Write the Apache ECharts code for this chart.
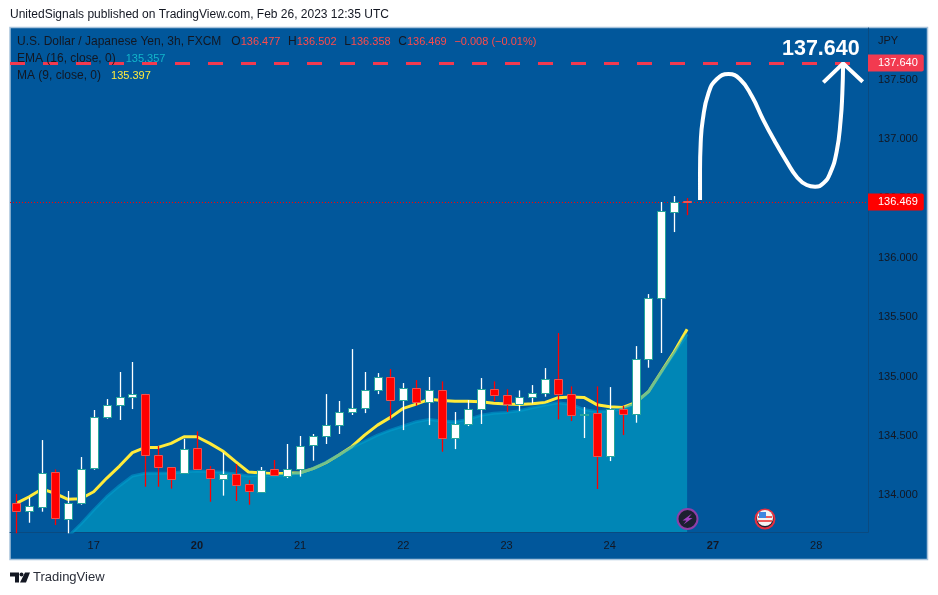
<!DOCTYPE html>
<html>
<head>
<meta charset="utf-8">
<style>
html, body { margin: 0; padding: 0; background: #fff; }
#main { width: 938px; height: 595px; }
</style>
<script src="https://cdn.jsdelivr.net/npm/echarts@6/dist/echarts.min.js"></script>
</head>
<body>
<div id="main"></div>
<script>
// USD/JPY 3h bars
var open = [133.932,133.865,133.907,134.193,133.806,133.940,134.227,134.656,134.757,134.824,134.850,134.336,134.235,134.193,134.395,134.218,134.143,134.182,134.092,134.033,134.218,134.168,134.227,134.420,134.499,134.589,134.698,134.732,134.883,134.993,134.799,134.900,134.782,134.883,134.479,134.597,134.723,134.892,134.841,134.765,134.824,134.858,134.976,134.850,134.676,134.690,134.325,134.723,134.678,135.144,135.658,136.390,136.477];
var close = [133.865,133.907,134.190,133.806,133.938,134.224,134.656,134.757,134.824,134.850,134.336,134.235,134.134,134.392,134.218,134.143,134.182,134.092,134.033,134.215,134.168,134.224,134.417,134.496,134.589,134.698,134.732,134.883,134.993,134.796,134.900,134.779,134.883,134.479,134.597,134.723,134.892,134.841,134.765,134.824,134.858,134.976,134.850,134.673,134.687,134.325,134.723,134.678,135.144,135.658,136.390,136.472,136.469];
var low = [133.680,133.769,133.862,133.750,133.680,133.921,134.215,134.645,134.634,134.726,134.072,134.072,134.056,134.190,134.215,133.946,133.997,133.952,133.921,134.030,134.165,134.145,134.157,134.291,134.432,134.516,134.676,134.692,134.852,134.639,134.549,134.754,134.591,134.367,134.389,134.583,134.600,134.791,134.701,134.709,134.774,134.830,134.639,134.625,134.482,134.053,134.288,134.507,134.611,135.074,135.198,136.216,136.358];
var high = [134.011,133.983,134.465,134.218,134.036,134.322,134.718,134.810,135.038,135.122,134.855,134.415,134.238,134.476,134.538,134.246,134.359,134.263,134.128,134.238,134.297,134.432,134.499,134.516,134.852,134.794,135.231,135.038,135.029,135.063,134.945,134.970,134.996,134.959,134.701,134.802,134.987,134.959,134.892,134.883,134.928,135.071,135.366,134.917,134.743,134.917,134.911,134.754,135.256,135.694,136.469,136.519,136.502];
var ma9 = [133.932,133.988,134.053,134.016,133.966,133.971,134.030,134.143,134.246,134.359,134.403,134.403,134.437,134.493,134.493,134.437,134.373,134.283,134.196,134.187,134.182,134.185,134.190,134.224,134.274,134.339,134.409,134.507,134.591,134.656,134.732,134.768,134.808,134.799,134.791,134.791,134.788,134.774,134.768,134.765,134.771,134.782,134.822,134.827,134.824,134.763,134.746,134.740,134.779,134.872,135.040,135.209,135.397];
var ema16 = [null,null,null,null,133.651,133.758,133.876,133.988,134.081,134.162,134.185,134.185,134.187,134.199,134.204,134.201,134.193,134.179,134.162,134.171,134.162,134.173,134.190,134.224,134.277,134.339,134.403,134.454,134.507,134.549,134.583,134.620,134.639,134.625,134.620,134.639,134.673,134.690,134.698,134.712,134.737,134.760,134.779,134.765,134.723,134.704,134.712,134.726,134.774,134.872,135.035,135.195,135.357];

var dayTicks = [6,14,22,30,38,46,54,62];
var dayLabels = ['17','20','21','22','23','24','27','28'];
var boldDays = ['20','27'];
var priceTicks = [134,134.5,135,135.5,136,136.5,137,137.5];

var targetPrice = 137.640;
var lastPrice = 136.469;

// hand drawn projection, in bar number / price
var pathPoints = [[53.0,136.486],[53.0,136.738],[53.05,136.963],[53.21,137.159],[53.65,137.384],[54.29,137.502],[55.2,137.546],[56.1,137.502],[57.01,137.361],[57.91,137.159],[58.81,136.977],[59.72,136.809],[60.49,136.682],[61.27,136.612],[61.92,136.598],[62.56,136.626],[63.08,136.710],[63.59,136.893],[63.9,137.159],[64.03,137.384],[64.09,137.636]];
var arrowPoints = [[62.56,137.476],[64.09,137.636],[65.61,137.482]];

var uiFont = '"Liberation Sans", Arial, sans-serif';
var textColor = '#131722';
var panelColor = '#01579b';

function pairs(arr) {
    return arr.map(function (v, i) { return [i, v]; });
}

var bars = open.map(function (o, i) {
    return [i, o, close[i], low[i], high[i]];
});

function renderBar(params, api) {
    var o = api.value(1), c = api.value(2);
    var up = c >= o;
    var x = Math.round(api.coord([api.value(0), o])[0]) + 0.5;
    var yTop = api.coord([0, Math.max(o, c)])[1];
    var yBot = api.coord([0, Math.min(o, c)])[1];
    var yHigh = api.coord([0, api.value(4)])[1];
    var yLow = api.coord([0, api.value(3)])[1];
    return {
        type: 'group',
        children: [{
            type: 'line',
            shape: { x1: x, y1: yHigh, x2: x, y2: yLow },
            style: { stroke: up ? '#ffffff' : '#ff0000', lineWidth: 1.3 }
        }, {
            type: 'rect',
            shape: { x: x - 4, y: Math.round(yTop) + 0.5, width: 8, height: Math.max(Math.round(yBot - yTop), 1) },
            style: { fill: up ? '#ffffff' : '#ff0000', stroke: up ? '#26a69a' : '#ef5350', lineWidth: 1 }
        }]
    };
}

function priceLine(price, tagColor, lineStyle) {
    return {
        silent: true,
        symbol: 'none',
        animation: false,
        lineStyle: lineStyle,
        label: {
            show: true,
            position: 'end',
            distance: 0,
            formatter: price.toFixed(3),
            padding: [0, 6, 0, 10],
            height: 17,
            lineHeight: 17,
            color: '#fff',
            fontFamily: uiFont,
            fontSize: 11,
            backgroundColor: tagColor,
            borderRadius: [0, 2, 2, 0]
        },
        data: [{ yAxis: price }]
    };
}

var chart = echarts.init(document.getElementById('main'), null, { renderer: 'canvas' });

chart.setOption({
    animation: false,
    backgroundColor: '#ffffff',
    textStyle: { fontFamily: uiFont },
    grid: { left: 10, top: 28, width: 858, height: 504, containLabel: false },
    xAxis: {
        type: 'value',
        min: -0.488,
        max: 66.02,
        splitLine: { show: false },
        axisLine: { show: true, onZero: false, lineStyle: { color: '#0a4a80', width: 1 } },
        axisTick: { show: false },
        axisLabel: {
            customValues: dayTicks,
            margin: 8,
            color: textColor,
            fontSize: 11,
            fontFamily: uiFont,
            formatter: function (v) {
                var s = dayLabels[dayTicks.indexOf(v)];
                return boldDays.indexOf(s) >= 0 ? '{b|' + s + '}' : s;
            },
            rich: { b: { fontWeight: 'bold', fontSize: 11, color: textColor, fontFamily: uiFont } }
        }
    },
    yAxis: {
        type: 'value',
        position: 'right',
        min: 133.691,
        max: 137.934,
        splitLine: { show: false },
        axisLine: { show: true, onZero: false, lineStyle: { color: '#0a4a80', width: 1 } },
        axisTick: { show: false },
        axisLabel: {
            customValues: priceTicks,
            margin: 10,
            color: textColor,
            fontSize: 11,
            fontFamily: uiFont,
            formatter: function (v) { return v.toFixed(3); }
        }
    },
    series: [
        {
            name: 'EMA area',
            type: 'line',
            z: 2,
            data: pairs(ema16),
            showSymbol: false,
            lineStyle: { width: 0 },
            areaStyle: { color: '#0086b6', opacity: 1, origin: 'start' }
        },
        {
            name: 'MA (9, close, 0)',
            type: 'line',
            z: 3,
            data: pairs(ma9),
            showSymbol: false,
            lineStyle: { color: '#ffeb3b', width: 3 }
        },
        {
            name: 'EMA (16, close, 0)',
            type: 'line',
            z: 4,
            data: pairs(ema16),
            showSymbol: false,
            lineStyle: { color: 'rgba(0,160,205,0.55)', width: 3 }
        },
        {
            name: 'USD/JPY',
            type: 'custom',
            z: 5,
            data: bars,
            encode: { x: 0, y: [1, 2, 3, 4] },
            renderItem: renderBar
        },
        {
            name: 'last',
            type: 'line',
            z: 6,
            data: [],
            markLine: priceLine(lastPrice, '#ff0000', { color: '#ff0000', type: [1, 2], width: 1 })
        },
        {
            name: 'target',
            type: 'line',
            z: 7,
            data: [],
            markLine: priceLine(targetPrice, '#f23a50', { color: '#f23a50', type: [15, 18], width: 3 })
        },
        {
            name: 'projection',
            type: 'line',
            z: 8,
            data: pathPoints,
            smooth: 0.5,
            showSymbol: false,
            lineStyle: { color: '#ffffff', width: 4, cap: 'butt' }
        },
        {
            name: 'arrow',
            type: 'line',
            z: 8,
            data: arrowPoints,
            showSymbol: false,
            lineStyle: { color: '#ffffff', width: 4 }
        }
    ],
    graphic: [
        { type: 'rect', z: -10, silent: true, shape: { x: 10, y: 27.5, width: 917.5, height: 532 }, style: { fill: panelColor, stroke: '#a8c3dc', lineWidth: 1.5 } },
        { type: 'text', z: 20, x: 10, y: 9, style: { text: 'UnitedSignals published on TradingView.com, Feb 26, 2023 12:35 UTC', fill: '#131722', font: '12px ' + uiFont } },
        { type: 'text', z: 20, x: 17, y: 36, style: {
            text: '{k|U.S. Dollar / Japanese Yen, 3h, FXCM   O}{v|136.477}{k|  H}{v|136.502}{k|  L}{v|136.358}{k|  C}{v|136.469}{k|  }{v|−0.008 (−0.01%)}',
            rich: { k: { fill: textColor, font: '12px ' + uiFont }, v: { fill: '#ff4a4a', font: '11px ' + uiFont, padding: [0, 1, 0, 0] } }
        } },
        { type: 'text', z: 20, x: 17, y: 53, style: {
            text: '{k|EMA (16, close, 0)   }{v|135.357}',
            rich: { k: { fill: textColor, font: '12px ' + uiFont }, v: { fill: '#12b5cb', font: '11px ' + uiFont } }
        } },
        { type: 'text', z: 20, x: 17, y: 70, style: {
            text: '{k|MA (9, close, 0)   }{v|135.397}',
            rich: { k: { fill: textColor, font: '12px ' + uiFont }, v: { fill: '#ffeb3b', font: '11px ' + uiFont } }
        } },
        { type: 'text', z: 20, x: 878, y: 35, style: { text: 'JPY', fill: textColor, font: '11px ' + uiFont } },
        { type: 'text', z: 20, x: 782, y: 38, style: { text: '137.640', fill: '#ffffff', font: 'bold 21.5px ' + uiFont } },
        // news markers
        { type: 'circle', z: 20, silent: true, shape: { cx: 687.5, cy: 519, r: 10 }, style: { fill: '#1c2030', stroke: '#8e3fa8', lineWidth: 2 } },
        { type: 'polygon', z: 21, silent: true, shape: { points: [[692,513.5],[682.5,520.5],[686.5,520.5],[683.5,524.5],[692.5,518],[688.5,518]] }, style: { fill: '#a040c0' } },
        { type: 'circle', z: 20, silent: true, shape: { cx: 765, cy: 519, r: 9.5 }, style: { fill: '#1c2030', stroke: '#e5303f', lineWidth: 2 } },
        { type: 'sector', z: 21, silent: true, shape: { cx: 765, cy: 518, r: 8, r0: 0, startAngle: 0, endAngle: Math.PI * 2 }, style: { fill: '#f4f4f4' } },
        { type: 'rect', z: 22, silent: true, shape: { x: 758, y: 516, width: 14, height: 2 }, style: { fill: '#ef5a5a' } },
        { type: 'rect', z: 22, silent: true, shape: { x: 758, y: 520, width: 14, height: 2 }, style: { fill: '#ef5a5a' } },
        { type: 'rect', z: 23, silent: true, shape: { x: 759, y: 512, width: 7, height: 6 }, style: { fill: '#3f86e0' } },
        // footer logo
        { type: 'polygon', z: 20, silent: true, shape: { points: [[10,572.5],[19,572.5],[19,582.5],[15,582.5],[15,576.5],[10,576.5]] }, style: { fill: '#131722' } },
        { type: 'circle', z: 20, silent: true, shape: { cx: 21.5, cy: 574.5, r: 2 }, style: { fill: '#131722' } },
        { type: 'polygon', z: 20, silent: true, shape: { points: [[25,572.5],[30,572.5],[26,582.5],[20,582.5]] }, style: { fill: '#131722' } },
        { type: 'text', z: 20, x: 33, y: 571, style: { text: 'TradingView', fill: '#2a2e39', font: '13px ' + uiFont } }
    ]
});
</script>
</body>
</html>
